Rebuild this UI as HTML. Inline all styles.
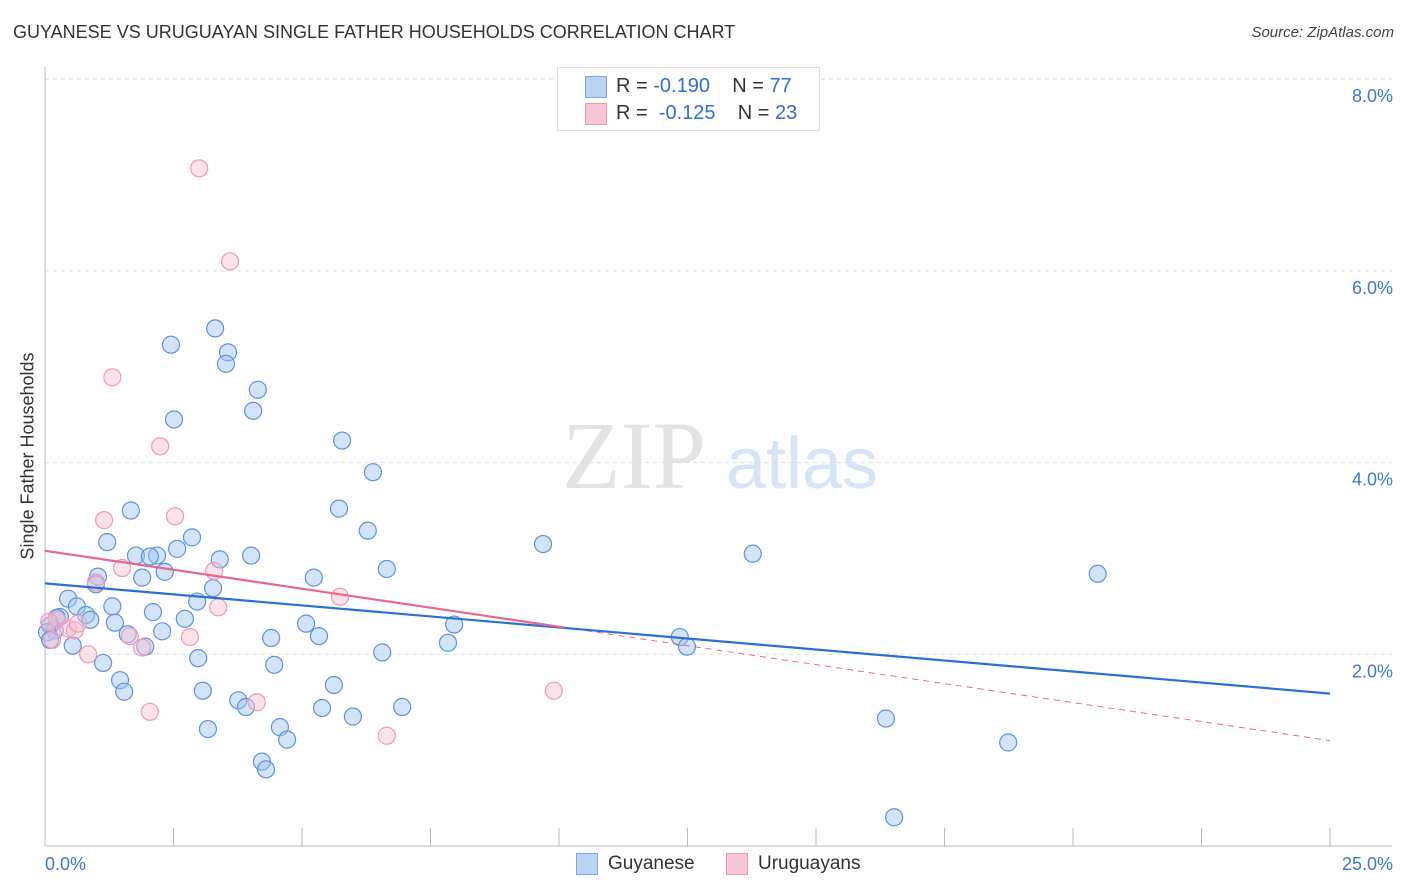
<!DOCTYPE html>
<html><head><meta charset="utf-8"><style>
body{margin:0;background:#fff;font-family:"Liberation Sans",sans-serif;}
#wrap{position:relative;width:1406px;height:892px;overflow:hidden;}
.t{position:absolute;white-space:nowrap;}
</style></head><body>
<div id="wrap">
<div class="t" style="left:13px;top:22px;font-size:18px;color:#333;">GUYANESE VS URUGUAYAN SINGLE FATHER HOUSEHOLDS CORRELATION CHART</div>
<div class="t" style="right:12px;top:24px;font-size:15px;color:#444;font-style:italic;">Source: ZipAtlas.com</div>
<svg id="chart" width="1406" height="892" style="position:absolute;left:0;top:0"></svg>
<div class="t" style="left:28px;top:456px;font-size:18px;color:#333;transform:translate(-50%,-50%) rotate(-90deg);">Single Father Households</div>
<div style="position:absolute;left:557px;top:67px;width:261px;height:62px;border:1px solid #ddd;background:#fff;">
  <div style="position:absolute;left:27px;top:8px;width:20px;height:20px;background:#b9d3f5;border:1px solid #7aa8e8;"></div>
  <div class="t" style="left:58px;top:7px;font-size:20px;color:#333;">R = <span style="color:#2f6fd6">-0.190</span>&nbsp;&nbsp;&nbsp; N = <span style="color:#2f6fd6">77</span></div>
  <div style="position:absolute;left:27px;top:35px;width:20px;height:20px;background:#f8c6d6;border:1px solid #ef9ab5;"></div>
  <div class="t" style="left:58px;top:34px;font-size:20px;color:#333;">R = &nbsp;<span style="color:#2f6fd6">-0.125</span>&nbsp;&nbsp;&nbsp; N = <span style="color:#2f6fd6">23</span></div>
</div>
<div style="position:absolute;left:576px;top:853px;width:20px;height:20px;background:#b9d3f5;border:1px solid #7aa8e8;"></div>
<div class="t" style="left:608px;top:853px;font-size:19px;color:#333;">Guyanese</div>
<div style="position:absolute;left:726px;top:853px;width:20px;height:20px;background:#f8c6d6;border:1px solid #ef9ab5;"></div>
<div class="t" style="left:758px;top:853px;font-size:19px;color:#333;">Uruguayans</div>
</div>
<script>
const yTicks=[2,4,6,8];
const yTickLabels=["2.0%","4.0%","6.0%","8.0%"];
const xTickVals=[0,2.5,5,7.5,10,12.5,15,17.5,20,22.5,25];
const xEndLabels=["0.0%","25.0%"];
const guyaneseX=[2.45,3.31,3.56,3.52,4.14,4.05,2.51,5.78,6.38,1.67,5.72,6.28,9.69,13.77,20.48,1.21,2.86,2.57,1.77,2.18,2.04,3.40,4.01,6.65,1.03,1.89,2.33,5.23,0.99,3.27,0.45,0.62,1.31,2.96,2.10,2.72,0.29,0.80,0.88,1.36,5.08,7.96,0.10,0.19,0.04,2.28,1.61,5.33,4.40,12.35,1.95,7.84,12.49,0.54,0.10,6.56,2.98,1.13,4.46,1.46,5.62,1.54,3.07,3.76,3.91,6.95,5.39,5.99,16.36,4.57,3.17,4.71,18.74,4.22,4.30,16.52,0.23];
const guyaneseY=[5.23,5.40,5.15,5.03,4.76,4.54,4.45,4.23,3.90,3.50,3.52,3.29,3.15,3.05,2.84,3.17,3.22,3.10,3.03,3.03,3.02,2.99,3.03,2.89,2.81,2.80,2.86,2.80,2.73,2.69,2.58,2.50,2.50,2.55,2.44,2.37,2.39,2.41,2.36,2.33,2.32,2.31,2.30,2.25,2.23,2.24,2.21,2.19,2.17,2.18,2.08,2.12,2.08,2.09,2.15,2.02,1.96,1.91,1.89,1.73,1.68,1.61,1.62,1.52,1.45,1.45,1.44,1.35,1.33,1.24,1.22,1.11,1.08,0.88,0.80,0.30,2.38];
const uruguayanX=[3.00,3.60,1.31,2.24,1.15,2.53,1.50,3.29,0.99,5.74,3.37,0.23,0.45,0.58,0.08,1.65,2.82,1.89,0.84,2.04,4.12,6.65,9.90,0.14,0.64];
const uruguayanY=[7.07,6.10,4.89,4.17,3.40,3.44,2.90,2.87,2.75,2.60,2.49,2.36,2.27,2.25,2.34,2.19,2.18,2.07,2.00,1.40,1.50,1.15,1.62,2.15,2.32];
const blueTrend={x0:0,y0:2.74,x1:25,y1:1.59};
const pinkTrend={x0:0,y0:3.08,x1:25,y1:1.10,solidEnd:10.1};

const NS="http://www.w3.org/2000/svg";
const svg=document.getElementById('chart');
const X=v=>45+v*51.4;
const Y=v=>846-v*95.85;
function mk(tag,attrs,parent){const e=document.createElementNS(NS,tag);for(const k in attrs)e.setAttribute(k,attrs[k]);(parent||svg).appendChild(e);return e;}

// watermark
let w=mk('text',{x:634,y:488,'font-size':96,'font-family':'Liberation Serif,serif',fill:'#e3e3e3','text-anchor':'middle'});
w.textContent='ZIP';


let w2=mk('text',{x:802,y:488,'font-size':72,'font-family':'Liberation Sans,sans-serif',fill:'#d6e4f7','text-anchor':'middle'});
w2.textContent='atlas';



// grid
mk('line',{x1:45,x2:1392,y1:79,y2:79,stroke:'#ddd','stroke-dasharray':'4,4'});
yTicks.forEach((v,i)=>{
  const g=mk('line',{x1:45,x2:1392,y1:Y(v),y2:Y(v),stroke:'#ddd','stroke-dasharray':'4,4'});
  
  
  const t=mk('text',{x:1393,y:Y(v)+23,'font-size':18,fill:'#3a78d8','text-anchor':'end','font-family':'Liberation Sans,sans-serif'});
  t.textContent=yTickLabels[i];
  
  
});
// axes
const ya=mk('line',{x1:45,x2:45,y1:67,y2:846,stroke:'#bbb'});


const xa=mk('line',{x1:45,x2:1392,y1:846,y2:846,stroke:'#bbb'});


xTickVals.forEach(v=>{
  const t=mk('line',{x1:X(v),x2:X(v),y1:828,y2:846,stroke:'#bbb'});
  
  
});
const xl0=mk('text',{x:45,y:870,'font-size':18,fill:'#3a78d8','font-family':'Liberation Sans,sans-serif'});
xl0.textContent=xEndLabels[0];


const xl1=mk('text',{x:1393,y:870,'font-size':18,fill:'#3a78d8','text-anchor':'end','font-family':'Liberation Sans,sans-serif'});
xl1.textContent=xEndLabels[1];



// points
guyaneseX.forEach((x,i)=>{
  const c=mk('circle',{cx:X(x),cy:Y(guyaneseY[i]),r:8.5,fill:'rgba(160,196,240,0.45)',stroke:'#5b93e0','stroke-width':1.2});
  
  
});
uruguayanX.forEach((x,i)=>{
  const c=mk('circle',{cx:X(x),cy:Y(uruguayanY[i]),r:8.5,fill:'rgba(248,190,208,0.45)',stroke:'#ef9ab5','stroke-width':1.2});
  
  
});

// trends
const pAt=(t,x)=>t.y0+(t.y1-t.y0)*(x-t.x0)/(t.x1-t.x0);
const pd=mk('line',{x1:X(pinkTrend.solidEnd),y1:Y(pAt(pinkTrend,pinkTrend.solidEnd)),x2:X(pinkTrend.x1),y2:Y(pinkTrend.y1),stroke:'#e8668f','stroke-width':1,'stroke-dasharray':'6,5'});


const bl=mk('line',{x1:X(blueTrend.x0),y1:Y(blueTrend.y0),x2:X(blueTrend.x1),y2:Y(blueTrend.y1),stroke:'#2a6fd6','stroke-width':2.2});


const ps=mk('line',{x1:X(pinkTrend.x0),y1:Y(pinkTrend.y0),x2:X(pinkTrend.solidEnd),y2:Y(pAt(pinkTrend,pinkTrend.solidEnd)),stroke:'#e8668f','stroke-width':2.2});


</script>
</body></html>
